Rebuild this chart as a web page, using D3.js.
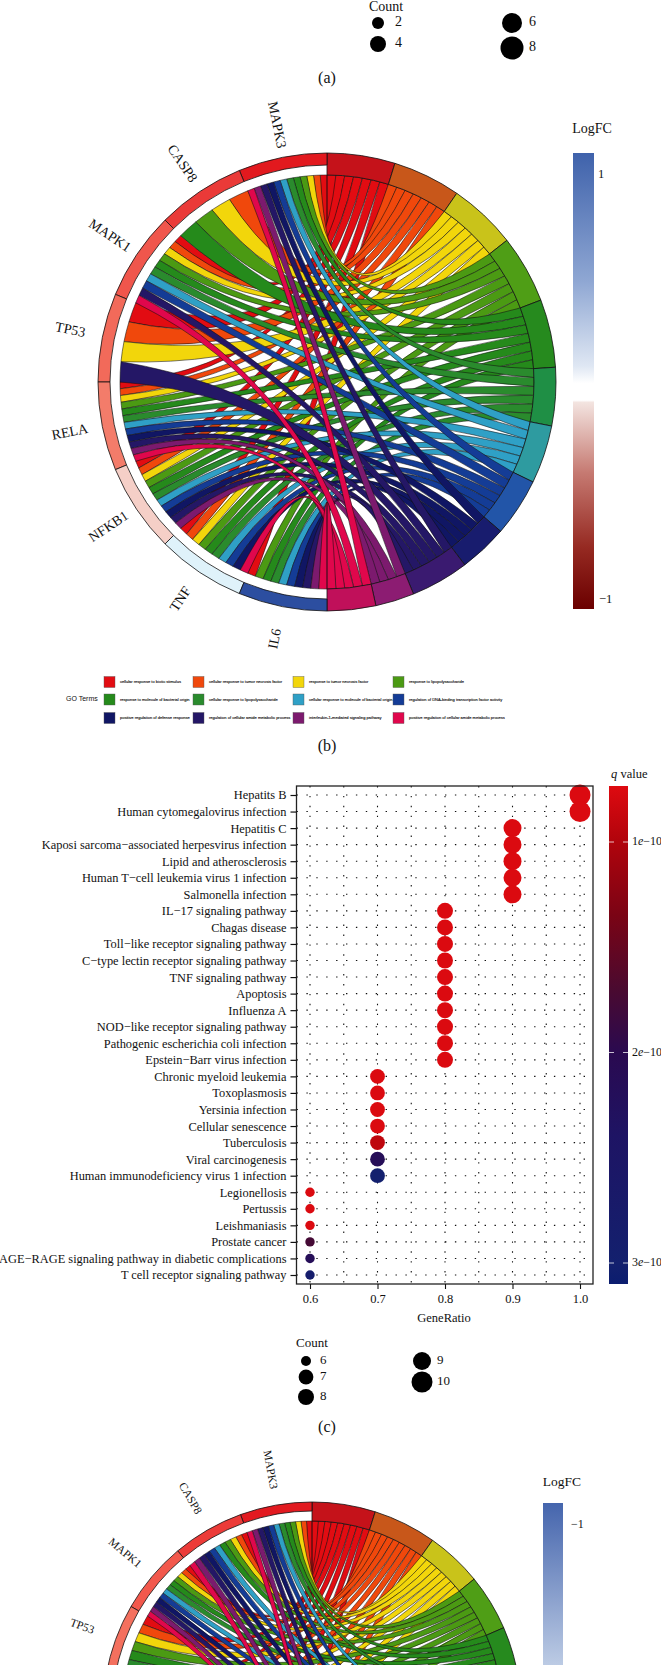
<!DOCTYPE html>
<html><head><meta charset="utf-8">
<script src="https://cdn.jsdelivr.net/npm/d3@7/dist/d3.min.js"></script>
<style>html,body{margin:0;background:#fff}svg{display:block}text{font-family:'Liberation Serif',serif;fill:#111}</style>
</head><body><svg id="c" width="661" height="1665" viewBox="0 0 661 1665"></svg>
<script>
const goTerms=["cellular response to biotic stimulus","cellular response to tumor necrosis factor","response to tumor necrosis factor","response to lipopolysaccharide","response to molecule of bacterial origin","cellular response to lipopolysaccharide","cellular response to molecule of bacterial origin","regulation of DNA-binding transcription factor activity","positive regulation of defense response","regulation of cellular amide metabolic process","interleukin-1-mediated signaling pathway","positive regulation of cellular amide metabolic process"];
const ribbonColors=["#e20c12","#f0480c","#f2d60b","#4b9a13","#258a1b","#2a8b2d","#2fa0c6","#143c96","#101664","#241766","#7c1a6e","#e0074c"];
const termBandColors=["#c5121a","#c8571a","#c9c31a","#4f9e16","#268a1e","#1f8f45","#2e9ba0","#2255a8","#181c6e","#3a1a70","#8c1c72","#c0105a"];
const chordBGenes=["MAPK3","CASP8","MAPK1","TP53","RELA","NFKB1","TNF","IL6"];
const chordBGeneColors=["#e2191e","#ea3a38","#f0564c","#f26a5a","#f37c6a","#f5cfc7","#dff2fa","#2c4ea0"];
const chordBLinks=[[0,1,2,3,4,5,6,7,8,9,10,11],[1,2,3,4],[0,1,2,3,4,5,6,7,9,11],[0,1,2,9],[0,1,2,3,4,5,6,7,8,9,10,11],[0,1,2,3,4,5,6,7,8,9,10],[0,1,2,3,4,5,6,7,8,11],[0,3,4,5,6,7,8,9,10,11]];
const chordDGenes=["MAPK3","CASP8","MAPK1","TP53"];
const chordDGeneColors=["#e21a20","#ec3b38","#f2584c","#f4705e"];
const chordDLinks=[[0,1,2,3,4,5,6,7,8,9,10,11],[0,1,2,3,4,6,7,8,9,10,11],[0,1,2,3,4,5,6,7,8,9,10,11],[0,1,2,3,4,5,6],[0,1,2,3,4,5,6,7,8,9],[0,1,2,3,4,5,6,7,8,9],[0,1,2,3,4,5,6,7,10,11],[0,1,2,5,6,7,8,9,10,11],[0,1,3,4,5,7,8,9,10,11]];
const pathways=["Hepatits B","Human cytomegalovirus infection","Hepatitis C","Kaposi sarcoma−associated herpesvirus infection","Lipid and atherosclerosis","Human T−cell leukemia virus 1 infection","Salmonella infection","IL−17 signaling pathway","Chagas disease","Toll−like receptor signaling pathway","C−type lectin receptor signaling pathway","TNF signaling pathway","Apoptosis","Influenza A","NOD−like receptor signaling pathway","Pathogenic escherichia coli infection","Epstein−Barr virus infection","Chronic myeloid leukemia","Toxoplasmosis","Yersinia infection","Cellular senescence","Tuberculosis","Viral carcinogenesis","Human immunodeficiency virus 1 infection","Legionellosis","Pertussis","Leishmaniasis","Prostate cancer","AGE−RAGE signaling pathway in diabetic complications","T cell receptor signaling pathway"];
const geneRatio=[1,1,.9,.9,.9,.9,.9,.8,.8,.8,.8,.8,.8,.8,.8,.8,.8,.7,.7,.7,.7,.7,.7,.7,.6,.6,.6,.6,.6,.6];
const counts=[10,10,9,9,9,9,9,8,8,8,8,8,8,8,8,8,8,7,7,7,7,7,7,7,6,6,6,6,6,6];
const qValues=[.75,.75,.75,.75,.75,.75,.75,.75,.75,.75,.75,.75,.75,.75,.75,.75,.75,.75,.75,.75,.75,.92,2.15,3.0,.75,.75,.75,1.75,2.15,2.85];
const xTicks=[.6,.7,.8,.9,1];
const xMinor=[.6,.65,.7,.75,.8,.85,.9,.95,1];
const qTicks=[1,2,3];
const qStops=[.735,1,1.35,1.7,2,2.4,3,3.11];
const qStopColors=["#de0a10","#b0040c","#7a0415","#4a0a30","#2a0a50","#1e1464","#13206e","#0b1d6f"];
const logTicks=[1,-1];
const logStops=[1.104,.5,.1,.02,-.06,-.07,-.4,-.75,-1.04];
const logStopColors=["#3f62ab","#8fa7d3","#dfe7f3","#ffffff","#ffffff","#f3e4e0","#c67a72","#962a22","#6b0000"];
const legendA=[2,4,6,8];
const legendC=[6,7,8,9,10];

const svg=d3.select("#c");
const polar=(r,a)=>[r*Math.sin(a),-r*Math.cos(a)];
function drawChord({cx,cy,R,r,rGeneIn,genes,geneColors,links,labelR,labelSize}){
  const g=svg.append("g").attr("transform",`translate(${cx},${cy})`);
  const arc=d3.arc();
  const total=d3.sum(links,d=>d.length);
  const termAngle=d3.scaleLinear([0,total],[0,Math.PI]);
  const geneAngle=d3.scaleLinear([0,links.length],[0,-Math.PI]);
  const termCounts=goTerms.map((_,t)=>links.filter(l=>l.includes(t)).length);
  const termStart=d3.cumsum([0,...termCounts]);
  const seen=goTerms.map(()=>0);
  const ribbons=[];
  links.forEach((list,gi)=>{
    const ga=d3.scaleLinear([0,list.length],[geneAngle(gi),geneAngle(gi+1)]);
    list.forEach((t,k)=>{
      const u=termStart[t]+seen[t]++;
      ribbons.push({t,g0:ga(k),g1:ga(k+1),t0:termAngle(u),t1:termAngle(u+1)});
    });
  });
  ribbons.sort((a,b)=>d3.ascending(a.t,b.t));
  const ctrl=(p,q)=>[(p[0]+q[0])*.08,(p[1]+q[1])*.08];
  const ang=a=>a-Math.PI/2;
  g.selectAll("path.rib").data(ribbons).join("path").attr("class","rib")
   .attr("fill",d=>ribbonColors[d.t]).attr("stroke","#111").attr("stroke-width",.55)
   .attr("d",d=>{
     const p=d3.path(),a=polar(r,d.g0),b=polar(r,d.t0),c=polar(r,d.t1),e=polar(r,d.g1);
     p.moveTo(...a);
     let k=ctrl(a,b);p.quadraticCurveTo(k[0],k[1],b[0],b[1]);
     p.arc(0,0,r,ang(d.t0),ang(d.t1),false);
     k=ctrl(c,e);p.quadraticCurveTo(k[0],k[1],e[0],e[1]);
     p.arc(0,0,r,ang(d.g1),ang(d.g0),false);
     p.closePath();return p.toString();
   });
  goTerms.forEach((_,t)=>{
    g.append("path").attr("d",arc({innerRadius:r,outerRadius:R,startAngle:termAngle(termStart[t]),endAngle:termAngle(termStart[t+1])}))
     .attr("fill",termBandColors[t]).attr("stroke","#111").attr("stroke-width",.8);
  });
  genes.forEach((name,i)=>{
    g.append("path").attr("d",arc({innerRadius:rGeneIn,outerRadius:R,startAngle:geneAngle(i),endAngle:geneAngle(i+1)}))
     .attr("fill",geneColors[i]).attr("stroke","#111").attr("stroke-width",.8);
    const mid=(geneAngle(i)+geneAngle(i+1))/2,p=polar(labelR,mid);
    g.append("text").attr("transform",`translate(${p[0]},${p[1]}) rotate(${90+mid*180/Math.PI})`)
     .attr("text-anchor","middle").attr("dominant-baseline","middle").style("font-size",labelSize+"px").text(name);
  });
}
function cap(t,x,y){svg.append("text").attr("x",x).attr("y",y).attr("text-anchor","middle").style("font-size","16px").text(t);}
function gradient(id,y0,y1,scaleY,stops,colors){
  const gr=svg.append("defs").append("linearGradient").attr("id",id).attr("gradientUnits","userSpaceOnUse").attr("x1",0).attr("x2",0).attr("y1",y0).attr("y2",y1);
  stops.forEach((s,i)=>gr.append("stop").attr("offset",(scaleY(s)-y0)/(y1-y0)).attr("stop-color",colors[i]));
}
function lab(t,x,y,size,anchor){return svg.append("text").attr("x",x).attr("y",y).attr("text-anchor",anchor||"start").attr("dominant-baseline","middle").style("font-size",size+"px").text(t);}

/* panel a remnant */
lab("Count",386,8,14,"middle");
const rA=d3.scaleLinear(legendA,[6,8,10,11.5]);
[[378,23,395],[378,44,395],[512,23,529],[512,48,529]].forEach((p,i)=>{
  svg.append("circle").attr("cx",p[0]).attr("cy",p[1]).attr("r",rA(legendA[i])).attr("fill","#000");
  lab(legendA[i],p[2],p[1],14);
});
cap("(a)",327,83);

/* panel b */
drawChord({cx:327,cy:382,R:229,r:207,rGeneIn:217,genes:chordBGenes,geneColors:chordBGeneColors,links:chordBLinks,labelR:262,labelSize:14});
const yLogB=d3.scaleLinear([1,-1],[175,600]);
gradient("gb",153,609,yLogB,logStops,logStopColors);
svg.append("rect").attr("x",573).attr("y",153).attr("width",21).attr("height",456).attr("fill","url(#gb)");
lab("LogFC",592,130,14,"middle");
logTicks.forEach(v=>lab(v===1?"1":"−1",v===1?598:599,yLogB(v),12.5));
svg.append("text").attr("x",66).attr("y",699.5).attr("dominant-baseline","middle").style("font-family","'Liberation Sans',sans-serif").style("font-size","7px").text("GO Terms");
const lgX=d3.scaleOrdinal([0,1,2,3],[104,193,293,393]),lgY=d3.scaleOrdinal([0,1,2],[682,699.5,718]);
goTerms.forEach((t,i)=>{
  const cxi=i%4,cyi=Math.floor(i/4);
  svg.append("rect").attr("x",lgX(cxi)).attr("y",lgY(cyi)-5.5).attr("width",11).attr("height",11).attr("fill",ribbonColors[i]).attr("stroke","#555").attr("stroke-width",.4);
  svg.append("text").attr("x",lgX(cxi)+16).attr("y",lgY(cyi)).attr("dominant-baseline","middle").style("font-family","'Liberation Sans',sans-serif").style("font-size","4px").style("stroke","#111").style("stroke-width",".12px").text(t);
});
cap("(b)",327,751);

/* panel c */
const x=d3.scaleLinear([.6,1],[310,580]);
const y=d3.scalePoint(pathways,[795,1275]);
const L=296.5,Rt=593,T=786,B=1284;
const gridG=svg.append("g");
gridG.selectAll("line.h").data(pathways).join("line").attr("x1",L).attr("x2",Rt).attr("y1",d=>y(d)).attr("y2",d=>y(d));
gridG.selectAll("line.v").data(xMinor).join("line").attr("y1",T).attr("y2",B).attr("x1",d=>x(d)).attr("x2",d=>x(d));
gridG.selectAll("line").attr("stroke","#111").attr("stroke-width",1.1).attr("stroke-dasharray","1.4 8.5");
const yQ=d3.scaleLinear([1,3],[842,1263]);
const qColor=d3.scaleLinear(qStops,qStopColors);
const rC=d3.scaleLinear(legendC,[4.7,7.4,8,9,10.5]);
svg.append("g").selectAll("circle").data(pathways).join("circle").attr("cx",(d,i)=>x(geneRatio[i])).attr("cy",d=>y(d))
  .attr("r",(d,i)=>rC(counts[i])).attr("fill",(d,i)=>qColor(qValues[i]));
svg.append("rect").attr("x",L).attr("y",T).attr("width",Rt-L).attr("height",B-T).attr("fill","none").attr("stroke","#222").attr("stroke-width",1.3);
const yAx=svg.append("g").attr("transform",`translate(${L},0)`).call(d3.axisLeft(y).tickSize(6).tickPadding(4));
yAx.select(".domain").remove();yAx.selectAll("line").attr("stroke","#111").attr("stroke-width",1.2);
yAx.selectAll("text").style("font-size","12.4px");
const xAx=svg.append("g").attr("transform",`translate(0,${B})`).call(d3.axisBottom(x).tickValues(xTicks).tickFormat(d3.format(".1f")).tickSize(5).tickPadding(5));
xAx.select(".domain").remove();xAx.selectAll("line").attr("stroke","#111").attr("stroke-width",1.1);
xAx.selectAll("text").style("font-size","12.5px");
lab("GeneRatio",444,1319,12.5,"middle");
gradient("gq",786,1284,yQ,qStops,qStopColors);
svg.append("rect").attr("x",609).attr("y",786).attr("width",19).attr("height",498).attr("fill","url(#gq)");
qTicks.forEach(v=>{
  svg.append("line").attr("x1",609).attr("x2",628).attr("y1",yQ(v)).attr("y2",yQ(v)).attr("stroke","#fff").attr("stroke-opacity",.75).attr("stroke-width",1).attr("stroke-dasharray","5 9");
  const t=lab("",632,yQ(v),12);
  t.append("tspan").text(v);t.append("tspan").style("font-style","italic").text("e");t.append("tspan").text("−10");
});
const qt=lab("",611,775,12.5);qt.append("tspan").style("font-style","italic").text("q");qt.append("tspan").text(" value");
lab("Count",312,1344,13,"middle");
[[306,1361,320],[306,1377,320],[306,1397,320],[422,1361,437],[422,1382,437]].forEach((p,i)=>{
  svg.append("circle").attr("cx",p[0]).attr("cy",p[1]).attr("r",rC(legendC[i])+(i===0?.3:0)).attr("fill","#000");
  lab(legendC[i],p[2],p[1],13);
});
cap("(c)",327,1432);

/* panel d */
drawChord({cx:312,cy:1711,R:209,r:190,rGeneIn:200,genes:chordDGenes,geneColors:chordDGeneColors,links:chordDLinks,labelR:245,labelSize:11.5});
const yLogD=d3.scaleLinear([-1,0],[1525,1720]);
const gd=svg.append("defs").append("linearGradient").attr("id","gd").attr("gradientUnits","userSpaceOnUse").attr("x1",0).attr("x2",0).attr("y1",1503).attr("y2",1665);
gd.append("stop").attr("offset",0).attr("stop-color","#4565ad");gd.append("stop").attr("offset",1).attr("stop-color","#bccbe4");
svg.append("rect").attr("x",543).attr("y",1503).attr("width",20).attr("height",162).attr("fill","url(#gd)");
lab("LogFC",562,1483,13.5,"middle");
lab("−1",571,yLogD(-1),12);
</script></body></html>
